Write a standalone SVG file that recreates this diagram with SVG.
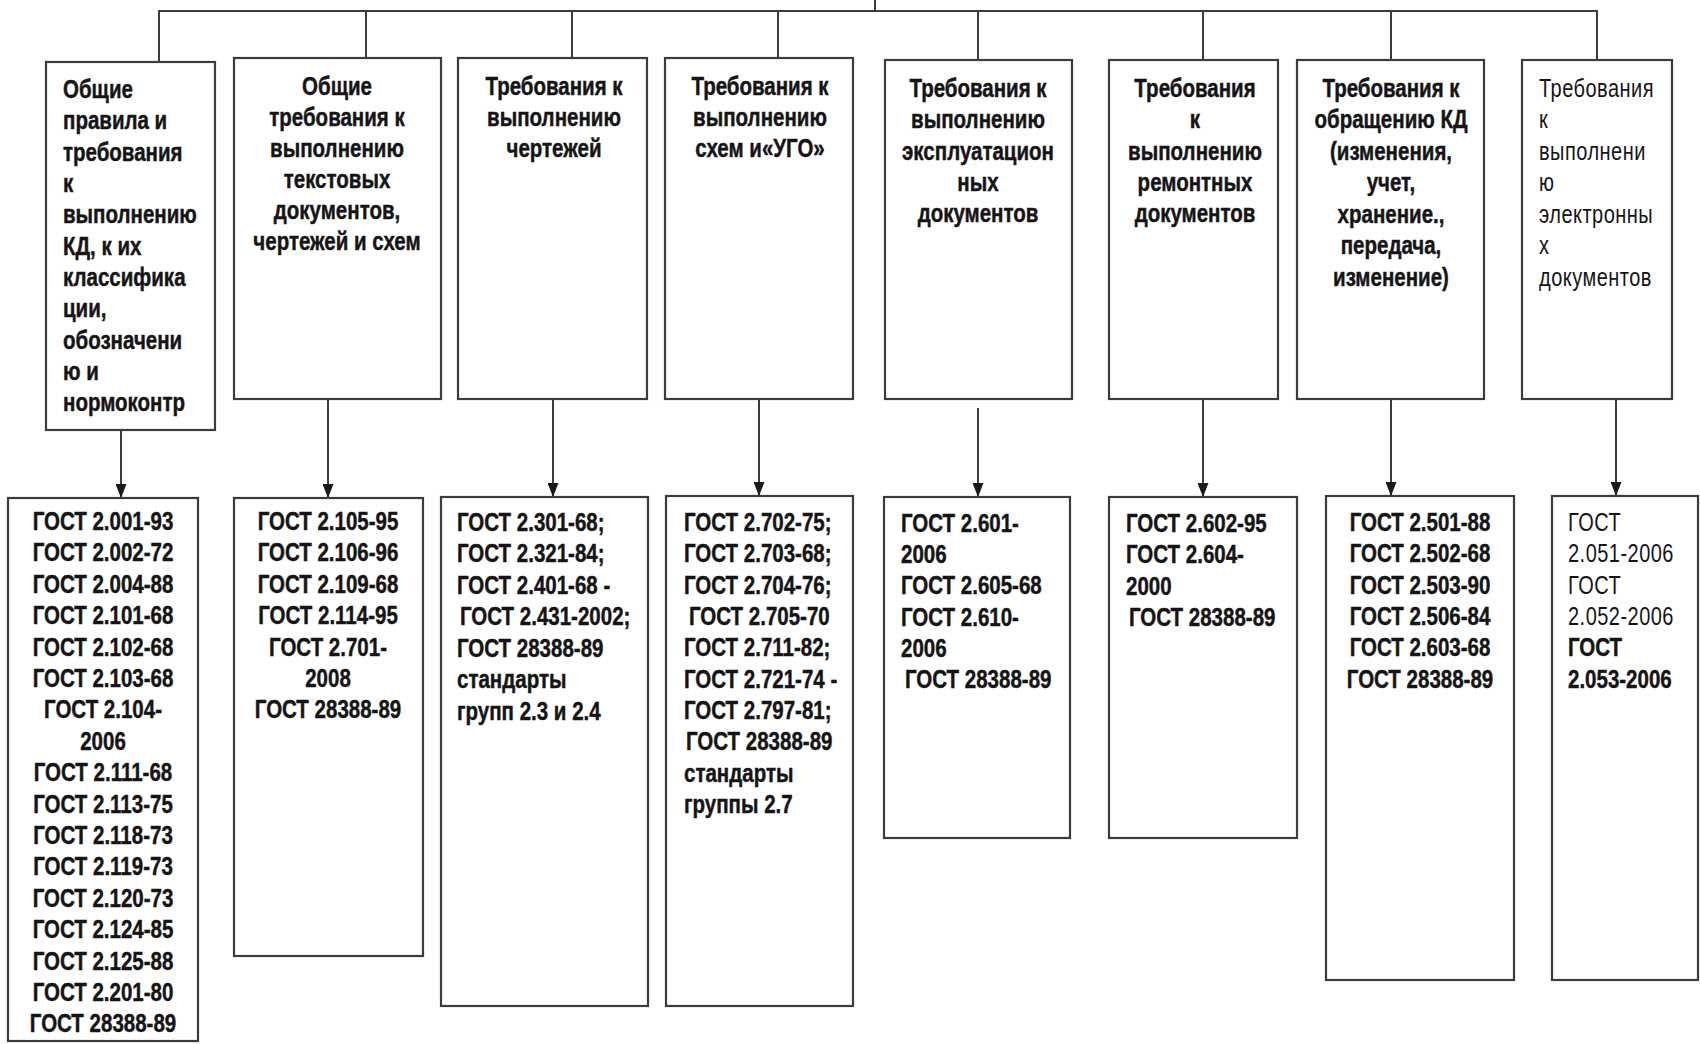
<svg xmlns="http://www.w3.org/2000/svg" width="1700" height="1044" viewBox="0 0 1700 1044">
<defs>
<style>
.box{fill:#fff;stroke:#3c3c3c;stroke-width:2.2}
.ln{fill:none;stroke:#3c3c3c;stroke-width:2}
text{font-family:"Liberation Sans Narrow","Liberation Sans",Arial,sans-serif;font-size:25px;font-weight:bold;fill:#151515;stroke:#151515;stroke-width:0.45px}
.c{text-anchor:middle}
.r{font-weight:normal;letter-spacing:0.6px;stroke:none}
</style>
<marker id="ah" viewBox="0 0 14 11" refX="14" refY="5.5" markerWidth="14" markerHeight="11" markerUnits="userSpaceOnUse" orient="auto">
<path d="M0,0 L14,5.5 L0,11 Z" fill="#1a1a1a"/>
</marker>
</defs>
<rect width="1700" height="1044" fill="#fff"/>

<g id="connectors">
<line class="ln" x1="875" y1="0" x2="875" y2="11"/>
<line class="ln" x1="158" y1="11" x2="1598" y2="11"/>
<line class="ln" x1="159" y1="11" x2="159" y2="62"/>
<line class="ln" x1="366" y1="11" x2="366" y2="58"/>
<line class="ln" x1="572" y1="11" x2="572" y2="58"/>
<line class="ln" x1="778" y1="11" x2="778" y2="58"/>
<line class="ln" x1="978" y1="11" x2="978" y2="60"/>
<line class="ln" x1="1203" y1="11" x2="1203" y2="60"/>
<line class="ln" x1="1391" y1="11" x2="1391" y2="60"/>
<line class="ln" x1="1597" y1="11" x2="1597" y2="60"/>
<line class="ln" x1="121" y1="430" x2="121" y2="498" marker-end="url(#ah)"/>
<line class="ln" x1="328" y1="399" x2="328" y2="498" marker-end="url(#ah)"/>
<line class="ln" x1="553" y1="399" x2="553" y2="497" marker-end="url(#ah)"/>
<line class="ln" x1="759" y1="399" x2="759" y2="496" marker-end="url(#ah)"/>
<line class="ln" x1="978" y1="408" x2="978" y2="497" marker-end="url(#ah)"/>
<line class="ln" x1="1203" y1="399" x2="1203" y2="497" marker-end="url(#ah)"/>
<line class="ln" x1="1391" y1="399" x2="1391" y2="496" marker-end="url(#ah)"/>
<line class="ln" x1="1616" y1="399" x2="1616" y2="496" marker-end="url(#ah)"/>
</g>

<g id="top-1"><rect class="box" x="46" y="62" width="169" height="368"/>
<text transform="translate(63,98) scale(0.82,1)">Общие</text>
<text transform="translate(63,129) scale(0.82,1)">правила и</text>
<text transform="translate(63,161) scale(0.82,1)">требования</text>
<text transform="translate(63,192) scale(0.82,1)">к</text>
<text transform="translate(63,223) scale(0.82,1)">выполнению</text>
<text transform="translate(63,255) scale(0.82,1)">КД, к их</text>
<text transform="translate(63,286) scale(0.82,1)">классифика</text>
<text transform="translate(63,317) scale(0.82,1)">ции,</text>
<text transform="translate(63,349) scale(0.82,1)">обозначени</text>
<text transform="translate(63,380) scale(0.82,1)">ю и</text>
<text transform="translate(63,411) scale(0.82,1)">нормоконтр</text></g>

<g id="top-2"><rect class="box" x="234" y="58" width="207" height="341"/>
<text class="c" transform="translate(337,95) scale(0.82,1)">Общие</text>
<text class="c" transform="translate(337,126) scale(0.82,1)">требования к</text>
<text class="c" transform="translate(337,157) scale(0.82,1)">выполнению</text>
<text class="c" transform="translate(337,188) scale(0.82,1)">текстовых</text>
<text class="c" transform="translate(337,219) scale(0.82,1)">документов,</text>
<text class="c" transform="translate(337,250) scale(0.82,1)">чертежей и схем</text></g>

<g id="top-3"><rect class="box" x="458" y="58" width="189" height="341"/>
<text class="c" transform="translate(554,95) scale(0.82,1)">Требования к</text>
<text class="c" transform="translate(554,126) scale(0.82,1)">выполнению</text>
<text class="c" transform="translate(554,157) scale(0.82,1)">чертежей</text></g>

<g id="top-4"><rect class="box" x="665" y="58" width="188" height="341"/>
<text class="c" transform="translate(760,95) scale(0.82,1)">Требования к</text>
<text class="c" transform="translate(760,126) scale(0.82,1)">выполнению</text>
<text class="c" transform="translate(760,157) scale(0.82,1)">схем и«УГО»</text></g>

<g id="top-5"><rect class="box" x="885" y="60" width="187" height="339"/>
<text class="c" transform="translate(978,97) scale(0.82,1)">Требования к</text>
<text class="c" transform="translate(978,128) scale(0.82,1)">выполнению</text>
<text class="c" transform="translate(978,160) scale(0.82,1)">эксплуатацион</text>
<text class="c" transform="translate(978,191) scale(0.82,1)">ных</text>
<text class="c" transform="translate(978,222) scale(0.82,1)">документов</text></g>

<g id="top-6"><rect class="box" x="1109" y="60" width="169" height="339"/>
<text class="c" transform="translate(1195,97) scale(0.82,1)">Требования</text>
<text class="c" transform="translate(1195,128) scale(0.82,1)">к</text>
<text class="c" transform="translate(1195,160) scale(0.82,1)">выполнению</text>
<text class="c" transform="translate(1195,191) scale(0.82,1)">ремонтных</text>
<text class="c" transform="translate(1195,222) scale(0.82,1)">документов</text></g>

<g id="top-7"><rect class="box" x="1297" y="60" width="187" height="339"/>
<text class="c" transform="translate(1391,97) scale(0.82,1)">Требования к</text>
<text class="c" transform="translate(1391,128) scale(0.82,1)">обращению КД</text>
<text class="c" transform="translate(1391,160) scale(0.82,1)">(изменения,</text>
<text class="c" transform="translate(1391,191) scale(0.82,1)">учет,</text>
<text class="c" transform="translate(1391,223) scale(0.82,1)">хранение.,</text>
<text class="c" transform="translate(1391,254) scale(0.82,1)">передача,</text>
<text class="c" transform="translate(1391,286) scale(0.82,1)">изменение)</text></g>

<g id="top-8"><rect class="box" x="1522" y="60" width="150" height="339"/>
<text class="r" transform="translate(1539,97) scale(0.8,1)">Требования</text>
<text class="r" transform="translate(1539,128) scale(0.8,1)">к</text>
<text class="r" transform="translate(1539,160) scale(0.8,1)">выполнени</text>
<text class="r" transform="translate(1539,191) scale(0.8,1)">ю</text>
<text class="r" transform="translate(1539,223) scale(0.8,1)">электронны</text>
<text class="r" transform="translate(1539,254) scale(0.8,1)">х</text>
<text class="r" transform="translate(1539,286) scale(0.8,1)">документов</text></g>

<g id="bottom-1"><rect class="box" x="8" y="498" width="190" height="543"/>
<text class="c" transform="translate(103,530) scale(0.82,1)">ГОСТ 2.001-93</text>
<text class="c" transform="translate(103,561) scale(0.82,1)">ГОСТ 2.002-72</text>
<text class="c" transform="translate(103,593) scale(0.82,1)">ГОСТ 2.004-88</text>
<text class="c" transform="translate(103,624) scale(0.82,1)">ГОСТ 2.101-68</text>
<text class="c" transform="translate(103,656) scale(0.82,1)">ГОСТ 2.102-68</text>
<text class="c" transform="translate(103,687) scale(0.82,1)">ГОСТ 2.103-68</text>
<text class="c" transform="translate(103,718) scale(0.82,1)">ГОСТ 2.104-</text>
<text class="c" transform="translate(103,750) scale(0.82,1)">2006</text>
<text class="c" transform="translate(103,781) scale(0.82,1)">ГОСТ 2.111-68</text>
<text class="c" transform="translate(103,813) scale(0.82,1)">ГОСТ 2.113-75</text>
<text class="c" transform="translate(103,844) scale(0.82,1)">ГОСТ 2.118-73</text>
<text class="c" transform="translate(103,875) scale(0.82,1)">ГОСТ 2.119-73</text>
<text class="c" transform="translate(103,907) scale(0.82,1)">ГОСТ 2.120-73</text>
<text class="c" transform="translate(103,938) scale(0.82,1)">ГОСТ 2.124-85</text>
<text class="c" transform="translate(103,970) scale(0.82,1)">ГОСТ 2.125-88</text>
<text class="c" transform="translate(103,1001) scale(0.82,1)">ГОСТ 2.201-80</text>
<text class="c" transform="translate(103,1032) scale(0.82,1)">ГОСТ 28388-89</text></g>

<g id="bottom-2"><rect class="box" x="234" y="498" width="189" height="458"/>
<text class="c" transform="translate(328,530) scale(0.82,1)">ГОСТ 2.105-95</text>
<text class="c" transform="translate(328,561) scale(0.82,1)">ГОСТ 2.106-96</text>
<text class="c" transform="translate(328,593) scale(0.82,1)">ГОСТ 2.109-68</text>
<text class="c" transform="translate(328,624) scale(0.82,1)">ГОСТ 2.114-95</text>
<text class="c" transform="translate(328,656) scale(0.82,1)">ГОСТ 2.701-</text>
<text class="c" transform="translate(328,687) scale(0.82,1)">2008</text>
<text class="c" transform="translate(328,718) scale(0.82,1)">ГОСТ 28388-89</text></g>

<g id="bottom-3"><rect class="box" x="441" y="497" width="207" height="509"/>
<text transform="translate(457,531) scale(0.82,1)">ГОСТ 2.301-68;</text>
<text transform="translate(457,562) scale(0.82,1)">ГОСТ 2.321-84;</text>
<text transform="translate(457,594) scale(0.82,1)">ГОСТ 2.401-68 -</text>
<text transform="translate(460,625) scale(0.82,1)">ГОСТ 2.431-2002;</text>
<text transform="translate(457,657) scale(0.82,1)">ГОСТ 28388-89</text>
<text transform="translate(457,688) scale(0.82,1)">стандарты</text>
<text transform="translate(457,720) scale(0.82,1)">групп 2.3 и 2.4</text></g>

<g id="bottom-4"><rect class="box" x="666" y="496" width="187" height="510"/>
<text transform="translate(684,531) scale(0.82,1)">ГОСТ 2.702-75;</text>
<text transform="translate(684,562) scale(0.82,1)">ГОСТ 2.703-68;</text>
<text transform="translate(684,594) scale(0.82,1)">ГОСТ 2.704-76;</text>
<text transform="translate(689,625) scale(0.82,1)">ГОСТ 2.705-70</text>
<text transform="translate(684,656) scale(0.82,1)">ГОСТ 2.711-82;</text>
<text transform="translate(684,688) scale(0.82,1)">ГОСТ 2.721-74 -</text>
<text transform="translate(684,719) scale(0.82,1)">ГОСТ 2.797-81;</text>
<text transform="translate(686,750) scale(0.82,1)">ГОСТ 28388-89</text>
<text transform="translate(684,782) scale(0.82,1)">стандарты</text>
<text transform="translate(684,813) scale(0.82,1)">группы 2.7</text></g>

<g id="bottom-5"><rect class="box" x="884" y="497" width="186" height="341"/>
<text transform="translate(901,532) scale(0.82,1)">ГОСТ 2.601-</text>
<text transform="translate(901,563) scale(0.82,1)">2006</text>
<text transform="translate(901,594) scale(0.82,1)">ГОСТ 2.605-68</text>
<text transform="translate(901,626) scale(0.82,1)">ГОСТ 2.610-</text>
<text transform="translate(901,657) scale(0.82,1)">2006</text>
<text transform="translate(905,688) scale(0.82,1)">ГОСТ 28388-89</text></g>

<g id="bottom-6"><rect class="box" x="1109" y="497" width="188" height="341"/>
<text transform="translate(1126,532) scale(0.82,1)">ГОСТ 2.602-95</text>
<text transform="translate(1126,563) scale(0.82,1)">ГОСТ 2.604-</text>
<text transform="translate(1126,595) scale(0.82,1)">2000</text>
<text transform="translate(1129,626) scale(0.82,1)">ГОСТ 28388-89</text></g>

<g id="bottom-7"><rect class="box" x="1326" y="496" width="188" height="484"/>
<text class="c" transform="translate(1420,531) scale(0.82,1)">ГОСТ 2.501-88</text>
<text class="c" transform="translate(1420,562) scale(0.82,1)">ГОСТ 2.502-68</text>
<text class="c" transform="translate(1420,594) scale(0.82,1)">ГОСТ 2.503-90</text>
<text class="c" transform="translate(1420,625) scale(0.82,1)">ГОСТ 2.506-84</text>
<text class="c" transform="translate(1420,656) scale(0.82,1)">ГОСТ 2.603-68</text>
<text class="c" transform="translate(1420,688) scale(0.82,1)">ГОСТ 28388-89</text></g>

<g id="bottom-8"><rect class="box" x="1552" y="496" width="146" height="484"/>
<text class="r" transform="translate(1568,531) scale(0.8,1)">ГОСТ</text>
<text class="r" transform="translate(1568,562) scale(0.8,1)">2.051-2006</text>
<text class="r" transform="translate(1568,594) scale(0.8,1)">ГОСТ</text>
<text class="r" transform="translate(1568,625) scale(0.8,1)">2.052-2006</text>
<text transform="translate(1568,656) scale(0.82,1)">ГОСТ</text>
<text transform="translate(1568,688) scale(0.82,1)">2.053-2006</text></g>
</svg>
